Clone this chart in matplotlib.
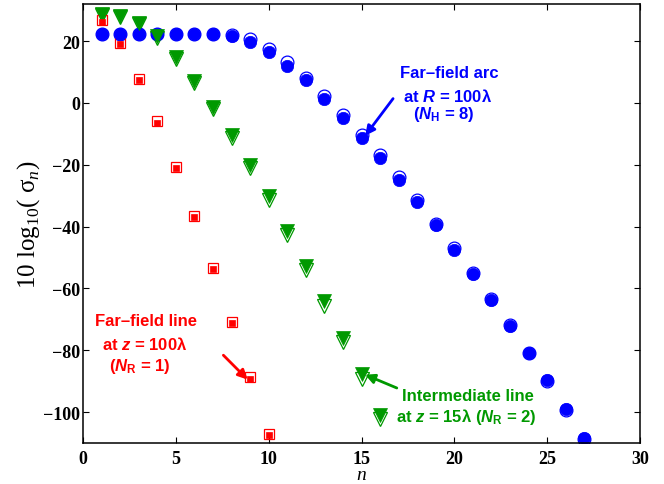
import numpy as np
import matplotlib
matplotlib.use('Agg')
from matplotlib import pyplot as plt

plt.rcParams['mathtext.fontset'] = 'custom'
plt.rcParams['mathtext.rm'] = 'Liberation Sans:bold'
plt.rcParams['mathtext.it'] = 'Liberation Sans:italic:bold'
plt.rcParams['mathtext.bf'] = 'Liberation Sans:bold'
plt.rcParams['mathtext.sf'] = 'Liberation Serif'
plt.rcParams['mathtext.cal'] = 'Liberation Serif:italic'

# singular values in dB
n_arc = np.arange(1, 28)
arc_fill = [22.3, 22.3, 22.3, 22.3, 22.3, 22.3, 22.2, 21.6, 19.8, 16.6, 12.1, 7.3, 1.4,
            -4.8, -11.2, -17.9, -24.9, -32.2, -39.6, -47.6, -55.4, -63.7, -72.1,
            -80.9, -89.7, -99.0, -108.3]
arc_open = [22.4, 22.4, 22.4, 22.4, 22.4, 22.4, 22.4, 22.0, 20.6, 17.6, 13.1, 8.2, 2.4,
            -3.9, -10.3, -17.0, -24.1, -31.4, -39.0, -47.0, -55.0, -63.4, -71.9,
            -80.8, -89.9, -99.4, -108.8]

n_mid = np.arange(1, 17)
mid_fill = [28.7, 28.2, 26.0, 21.5, 14.9, 7.2, -1.2, -10.3, -20.0, -30.2, -41.4,
            -52.6, -64.2, -76.0, -87.7, -100.8]
mid_open = [28.3, 27.8, 25.5, 20.9, 14.2, 6.4, -2.0, -11.2, -21.0, -31.3, -42.6,
            -53.9, -65.6, -77.4, -89.2, -102.3]

n_far = np.arange(1, 11)
far_fill = [26.3, 18.9, 7.3, -6.4, -21.1, -37.0, -53.7, -71.1, -89.3, -107.5]
far_open = [26.9, 19.4, 7.6, -6.0, -20.7, -36.6, -53.3, -70.7, -88.8, -107.0]

xticks = [0, 5, 10, 15, 20, 25, 30]
yticks = [20, 0, -20, -40, -60, -80, -100]

blue = (0, 0, 1)
red = (1, 0, 0)
green = (0, 0.6, 0)

fig = plt.figure(figsize=(6.64, 4.85), dpi=100)
ax = fig.add_axes([0.125, 0.0845, 0.8389, 0.9052])

# open markers first, filled on top
ax.plot(n_arc, arc_open, 'o', ms=9.2, mfc='none', mec=blue, mew=0.9)
ax.plot(n_mid, mid_open, 'v', ms=10.5, mfc='none', mec=green, mew=0.9)
ax.plot(n_far, far_open, 's', ms=7.5, mfc='none', mec=red, mew=0.9)
ax.plot(n_arc, arc_fill, 'o', ms=8.9, mfc=blue, mec=blue, mew=0.5)
ax.plot(n_mid, mid_fill, 'v', ms=10, mfc=green, mec=green, mew=0.5)
ax.plot(n_far, far_fill, 's', ms=4.8, mfc=red, mec=red, mew=0.5)

ax.set_xlim(0, 30)
ax.set_ylim(-110, 32)
ax.set_xticks(xticks)
ax.set_yticks(yticks)
ax.set_xticklabels([str(t) for t in xticks], family='Liberation Serif', weight='bold', fontsize=13)
ax.set_yticklabels([str(t).replace('-', '\u2212') for t in yticks], family='Liberation Serif',
                   weight='bold', fontsize=13)
ax.tick_params(direction='in', top=True, right=True, length=4, width=0.8)
ax.tick_params(axis='x', pad=5)
ax.tick_params(axis='y', pad=2)
for s in ax.spines.values():
    s.set_linewidth(1.1)

ax.set_xlabel('n', family='Liberation Serif', style='italic', fontsize=14, labelpad=-1)
ax.set_ylabel('10 log$_{\\mathsf{10}}$( σ$_{\\mathcal{n}}$)', family='Liberation Serif',
              fontsize=18, labelpad=1)

tkw = dict(family='Liberation Sans', weight='bold', fontsize=12, ha='center', va='center')
ax.text(19.71, 9.7, 'Far\u2013field arc', color=blue, **tkw)
ax.text(19.66, 2.4, 'at $\\mathit{R}$ = 100λ', color=blue, **tkw)
ax.text(19.4, -3.5, '($\\mathit{N}_\\mathrm{H}$ = 8)', color=blue, **tkw)
ax.annotate('', xy=(15.2, -10.6), xytext=(16.7, 1.4),
            arrowprops=dict(arrowstyle='-|>', color=blue, lw=2, mutation_scale=14,
                            shrinkA=0, shrinkB=0))

ax.text(3.39, -70.3, 'Far\u2013field line', color=red, **tkw)
ax.text(3.34, -77.7, 'at $\\mathit{z}$ = 100λ', color=red, **tkw)
ax.text(3.07, -84.8, '($\\mathit{N}_\\mathrm{R}$ = 1)', color=red, **tkw)
ax.annotate('', xy=(8.87, -89.5), xytext=(7.56, -81.6),
            arrowprops=dict(arrowstyle='-|>', color=red, lw=2, mutation_scale=14,
                            shrinkA=0, shrinkB=0))

ax.text(20.73, -94.5, 'Intermediate line', color=green, **tkw)
ax.text(20.65, -101.2, 'at $\\mathit{z}$ = 15λ ($\\mathit{N}_\\mathrm{R}$ = 2)', color=green, **tkw)
ax.annotate('', xy=(15.19, -87.9), xytext=(16.9, -92.2),
            arrowprops=dict(arrowstyle='-|>', color=green, lw=2, mutation_scale=14,
                            shrinkA=0, shrinkB=0))

fig.savefig('out.png', dpi=100)
